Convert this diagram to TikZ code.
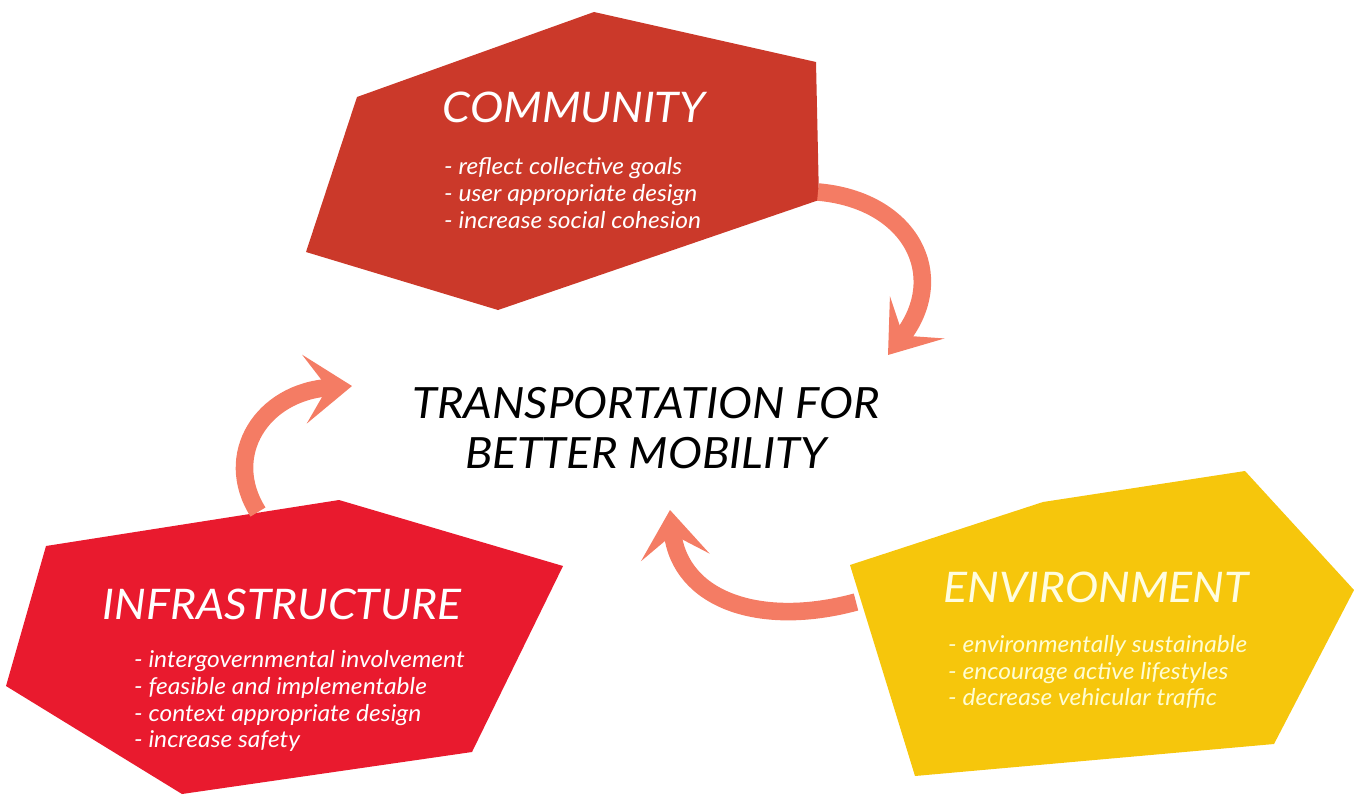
\documentclass[tikz,border=0pt]{standalone}
\usepackage{fontspec}
\setmainfont{Lato}[FakeStretch=1.06]
\usetikzlibrary{arrows.meta}
\definecolor{commred}{RGB}{203,57,42}
\definecolor{infrared}{RGB}{233,26,46}
\definecolor{envyellow}{RGB}{246,198,12}
\definecolor{loopred}{RGB}{244,124,100}
\tikzset{
  heading/.style={text=white,font=\fontsize{24}{28}\selectfont\itshape},
  points/.style={text=white,align=left,anchor=west,font=\fontsize{13.2}{15.3}\selectfont\itshape},
  looparrow/.style={draw=loopred,line width=10pt,-{Stealth[length=27pt,width=39pt,inset=13pt]}}
}
\begin{document}
\begin{tikzpicture}[x=0.02cm,y=-0.02cm]
\useasboundingbox (0,0) rectangle (1354,794);
\fill[commred] (594,12) -- (816,62) -- (819,200) -- (498,310) -- (306,252) -- (357,97) -- cycle;
\fill[infrared] (339,500) -- (563,566) -- (472,752) -- (182,794) -- (6,686) -- (46,546) -- cycle;
\fill[envyellow] (850,565) -- (1043,502) -- (1245,471) -- (1354,590) -- (1274,744) -- (915,776) -- cycle;
\coordinate (commout) at (818,192);
\coordinate (infraout) at (258,512);
\coordinate (envout) at (856,602);
\node (hub) [align=center,font=\fontsize{24.5}{28}\selectfont\itshape] at (646,428) {TRANSPORTATION FOR\\BETTER MOBILITY};
\coordinate (hubne) at (888,355);
\coordinate (hubnw) at (352,386);
\coordinate (hubs) at (670,510);
\draw[looparrow] (commout) .. controls (910,200) and (950,275) .. (hubne);
\draw[looparrow] (infraout) .. controls (222,455) and (262,392) .. (hubnw);
\draw[looparrow] (envout) .. controls (760,628) and (680,600) .. (hubs);
\node (comm) [heading] at (574,107) {COMMUNITY};
\node (commlist) [points] at (438,193) {- reflect collective goals\\- user appropriate design\\- increase social cohesion};
\node (infra) [heading] at (282,604) {INFRASTRUCTURE};
\node (infralist) [points] at (128,701) {- intergovernmental involvement\\- feasible and implementable\\- context appropriate design\\- increase safety};
\node (env) [heading,text=white!88!yellow] at (1096,587) {ENVIRONMENT};
\node (envlist) [points,text=white!82!yellow] at (942,672) {- environmentally sustainable\\- encourage active lifestyles\\- decrease vehicular traffic};
\end{tikzpicture}
\end{document}
